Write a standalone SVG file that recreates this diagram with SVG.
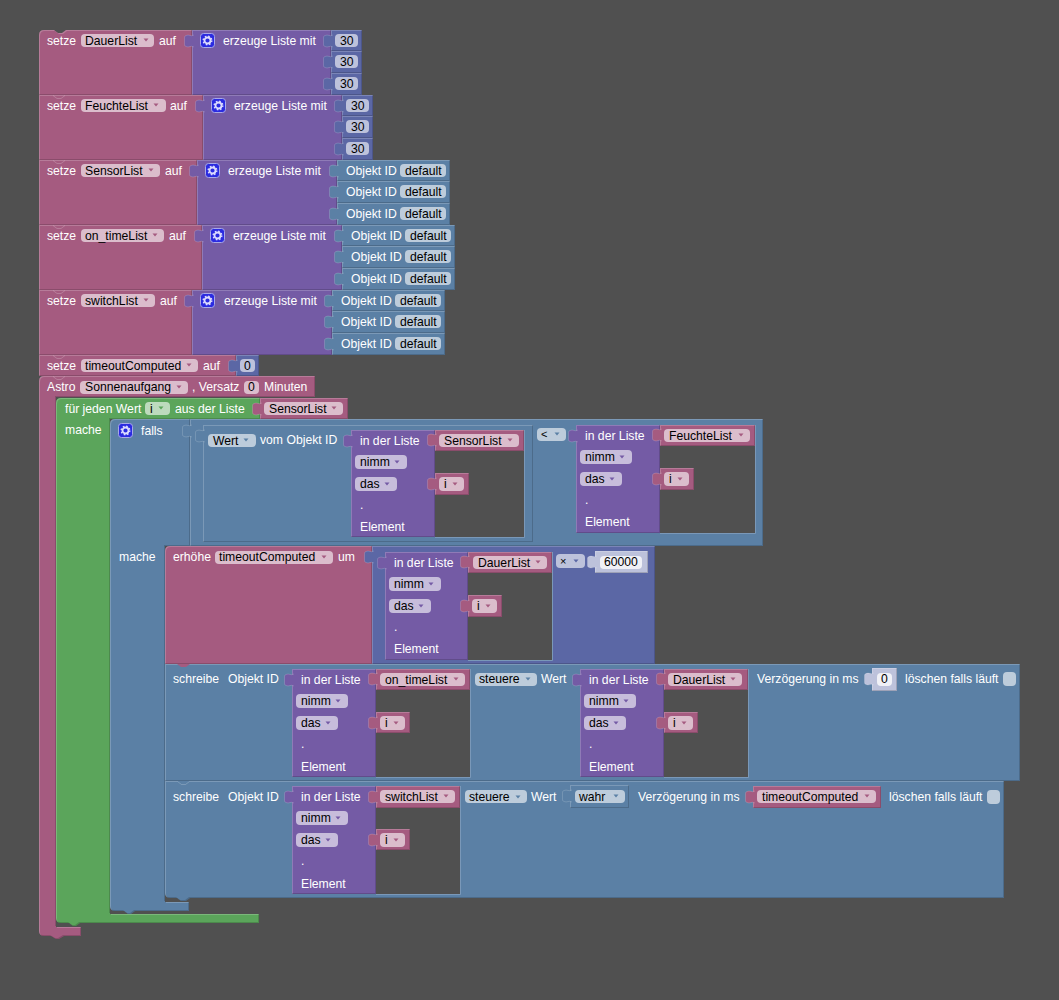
<svg xmlns="http://www.w3.org/2000/svg" width="1059" height="1000" viewBox="0 0 1059 1000">
<style>
text{font-family:"Liberation Sans",Arial,sans-serif;font-size:12.2px;fill:#fff;white-space:pre}
text.k{fill:#000}
.pk,.pu,.ma,.bl,.gr,.sh{filter:url(#bevel)}
.pk{fill:#a55b80}
.pu{fill:#745ba5}
.ma{fill:#5b67a5}
.bl{fill:#5b80a5}
.gr{fill:#5ba55b}
.sh{fill:#bdc2db}
.hole{fill:#505050;stroke:none}
.edge{fill:none;stroke:#7a98b8;stroke-width:1}
.fp{fill:#dbbdcc;rx:4px}.fu{fill:#c7bddb;rx:4px}.fm{fill:#bdc2db;rx:4px}.fb{fill:#bdccdb;rx:4px}.fg{fill:#bddbbd;rx:4px}.fw{fill:#f0f1f7;rx:4px}
.ap{fill:#a55b80}.au{fill:#745ba5}.am{fill:#5b67a5}.ab{fill:#5b80a5}.ag{fill:#5ba55b}.as{fill:#bdc2db}
.nt{fill:none;stroke-width:1;stroke:#fff;stroke-opacity:.2}
.sm{font-size:11px}
</style>
<defs>
<filter id="bevel" x="-2%" y="-2%" width="104%" height="104%" color-interpolation-filters="sRGB">
<feOffset in="SourceAlpha" dx="1" dy="1" result="o1"/>
<feComposite in="SourceAlpha" in2="o1" operator="out" result="tl"/>
<feFlood flood-color="#fff" flood-opacity=".2"/><feComposite in2="tl" operator="in" result="hi"/>
<feOffset in="SourceAlpha" dx="-1" dy="-1" result="o2"/>
<feComposite in="SourceAlpha" in2="o2" operator="out" result="br"/>
<feFlood flood-color="#000" flood-opacity=".16"/><feComposite in2="br" operator="in" result="lo"/>
<feMerge><feMergeNode in="SourceGraphic"/><feMergeNode in="hi"/><feMergeNode in="lo"/></feMerge>
</filter>
<path id="tab" d="M2 0C-1 2-3-1-6 .5C-7.500 1-7.500 2-7.500 3V9C-7.500 10-7.500 11-6 11.500C-3 13-1 10 2 12" stroke="#fff" stroke-opacity=".16"/>
<polygon id="ar" points="-2.500,-1.500 2.500,-1.500 0,1.500"/>
<polyline id="nt" points="0,0 4,3 8,3 12,0"/>
<g id="gear"><rect x="0.500" y="0.500" width="14" height="14" rx="3" fill="#2b2be0" stroke="#a8a8e8"/><circle cx="7.500" cy="7.500" r="3" fill="none" stroke="#dcdcff" stroke-width="1.800"/><circle cx="7.500" cy="7.500" r="4.300" fill="none" stroke="#dcdcff" stroke-width="1.400" stroke-dasharray="1.600 1.800"/></g>
</defs>
<rect width="1059" height="1000" fill="#505050"/>

<g id="astro">
<path class="pk" d="M39 381Q39 376 44 376H315V397H56V927H81V936H64L59 939H56L51 936H44Q39 936 39 931Z"/>
<use href="#nt" x="53" y="376.500" class="nt"/>
<text x="47" y="391">Astro</text><rect class="fp" x="80" y="381" width="108" height="13"/><text class="k" x="85" y="391">Sonnenaufgang</text><use href="#ar" x="179" y="387" class="ap"/>
<text x="192" y="391">, Versatz</text><rect class="fp" x="244" y="381" width="15" height="13"/><text class="k" x="248" y="391">0</text><text x="264" y="391">Minuten</text>
</g>

<g id="foreach">
<path class="gr" d="M56 403Q56 398 61 398H260V419H110V914H259V923H80L76 926H73L69 923H61Q56 923 56 918Z"/>
<text x="65" y="413">für jeden Wert</text><rect class="fg" x="145" y="402" width="25" height="13"/><text class="k" x="150" y="413">i</text><use href="#ar" x="161" y="408" class="ag"/>
<text x="175" y="413">aus der Liste</text><text x="65" y="434">mache</text>
<g id="foreach-list"><rect class="pk" x="260" y="398" width="88" height="21"/><use href="#tab" x="260" y="403" class="ap"/><rect class="fp" x="264" y="402" width="79" height="13"/><text class="k" x="269" y="413">SensorList</text><use href="#ar" x="334" y="408" class="ap"/></g>
</g>

<g id="falls">
<path class="bl" d="M110 424Q110 419 115 419H190V546H165V902H189V911H135L131 914H128L124 911H115Q110 911 110 906Z"/>
<use href="#gear" x="118" y="423"/><text x="141" y="435">falls</text><text x="119" y="561">mache</text>
</g>

<g id="compare">
<rect class="bl" x="190" y="419" width="573" height="127"/><use href="#tab" x="190" y="425" class="ab"/>
<rect class="fb" x="537" y="428" width="29" height="13"/><text class="k sm" x="541" y="438">&lt;</text><use href="#ar" x="557" y="434" class="ab"/>
</g>

<g id="get-state">
<rect class="bl" x="203" y="425" width="330" height="117"/><use href="#tab" x="203" y="430" class="ab"/>
<rect class="fb" x="208" y="434" width="48" height="13"/><text class="k" x="213" y="445">Wert</text><use href="#ar" x="246" y="440" class="ab"/>
<text x="260" y="444">vom Objekt ID</text>
</g>

<g id="list-1" transform="translate(351 430)">
<rect class="hole" x="84" y="0" width="89" height="107"/><path class="edge" d="M173.500 0V107.500H84"/>
<rect class="pu" x="0" y="0" width="84" height="107"/><use href="#tab" x="0" y="5" class="au"/>
<text x="9" y="15">in der Liste</text>
<rect class="fu" x="4" y="25" width="52" height="14"/><text class="k" x="9" y="36">nimm</text><use href="#ar" x="46" y="32" class="au"/>
<rect class="fu" x="4" y="47" width="42" height="14"/><text class="k" x="9" y="58">das</text><use href="#ar" x="36" y="54" class="au"/>
<text x="9" y="79">.</text><text x="9" y="101">Element</text>
<rect class="pk" x="84" y="0" width="89" height="21"/><use href="#tab" x="84" y="4" class="ap"/><rect class="fp" x="88" y="4" width="80" height="13"/><text class="k" x="93" y="15">SensorList</text><use href="#ar" x="159" y="10" class="ap"/>
<rect class="pk" x="84" y="43" width="34" height="22"/><use href="#tab" x="84" y="48" class="ap"/><rect class="fp" x="88" y="47" width="25" height="14"/><text class="k" x="93" y="58">i</text><use href="#ar" x="104" y="54" class="ap"/>
</g>

<g id="list-2" transform="translate(576 425)">
<rect class="hole" x="84" y="0" width="95" height="108"/><path class="edge" d="M179.500 0V108.500H84"/>
<rect class="pu" x="0" y="0" width="84" height="108"/><use href="#tab" x="0" y="5" class="au"/>
<text x="9" y="15">in der Liste</text>
<rect class="fu" x="4" y="25" width="52" height="14"/><text class="k" x="9" y="36">nimm</text><use href="#ar" x="46" y="32" class="au"/>
<rect class="fu" x="4" y="47" width="42" height="14"/><text class="k" x="9" y="58">das</text><use href="#ar" x="36" y="54" class="au"/>
<text x="9" y="79">.</text><text x="9" y="101">Element</text>
<rect class="pk" x="84" y="0" width="95" height="21"/><use href="#tab" x="84" y="4" class="ap"/><rect class="fp" x="88" y="4" width="86" height="13"/><text class="k" x="93" y="15">FeuchteList</text><use href="#ar" x="165" y="10" class="ap"/>
<rect class="pk" x="84" y="43" width="34" height="22"/><use href="#tab" x="84" y="48" class="ap"/><rect class="fp" x="88" y="47" width="25" height="14"/><text class="k" x="93" y="58">i</text><use href="#ar" x="104" y="54" class="ap"/>
</g>

<g id="increase">
<path class="pk" d="M165 551Q165 546 170 546H372V664H165Z"/>
<text x="173" y="561">erhöhe</text><rect class="fp" x="215" y="551" width="118" height="13"/><text class="k" x="219" y="561">timeoutComputed</text><use href="#ar" x="324" y="557" class="ap"/><text x="338" y="561">um</text>
</g>
<g id="multiply">
<rect class="ma" x="372" y="546" width="283" height="118"/><use href="#tab" x="372" y="551" class="am"/>
<rect class="fm" x="556" y="554" width="29" height="14"/><text class="k sm" x="560" y="565">×</text><use href="#ar" x="576" y="561" class="am"/>
<g id="n60000"><rect class="sh" x="595" y="551" width="53" height="22"/><use href="#tab" x="595" y="556" class="as"/><rect class="fw" x="600" y="556" width="42" height="13"/><text class="k" x="604" y="566">60000</text></g>
</g>

<g id="list-3" transform="translate(385 552)">
<rect class="hole" x="83" y="0" width="84" height="108"/><path class="edge" d="M167.500 0V108.500H83"/>
<rect class="pu" x="0" y="0" width="83" height="108"/><use href="#tab" x="0" y="5" class="au"/>
<text x="9" y="15">in der Liste</text>
<rect class="fu" x="4" y="25" width="52" height="14"/><text class="k" x="9" y="36">nimm</text><use href="#ar" x="46" y="32" class="au"/>
<rect class="fu" x="4" y="47" width="42" height="14"/><text class="k" x="9" y="58">das</text><use href="#ar" x="36" y="54" class="au"/>
<text x="9" y="79">.</text><text x="9" y="101">Element</text>
<rect class="pk" x="83" y="0" width="84" height="21"/><use href="#tab" x="83" y="4" class="ap"/><rect class="fp" x="88" y="4" width="74" height="13"/><text class="k" x="93" y="15">DauerList</text><use href="#ar" x="153" y="10" class="ap"/>
<rect class="pk" x="83" y="43" width="34" height="22"/><use href="#tab" x="83" y="48" class="ap"/><rect class="fp" x="87" y="47" width="25" height="14"/><text class="k" x="92" y="58">i</text><use href="#ar" x="103" y="54" class="ap"/>
</g>

<g id="write-1">
<rect class="bl" x="165" y="664" width="855" height="117"/><path d="M177 664L181 667H186L190 664Z" fill="#a55b80"/>
<text x="173" y="683">schreibe</text><text x="228" y="683">Objekt ID</text>
<rect class="fb" x="475" y="673" width="62" height="13"/><text class="k" x="479" y="683">steuere</text><use href="#ar" x="528" y="679" class="ab"/><text x="541" y="683">Wert</text>
<text x="757" y="683">Verzögerung in ms</text>
<g id="n0"><rect class="sh" x="872" y="668" width="25" height="23"/><use href="#tab" x="872" y="673" class="as"/><rect class="fw" x="877" y="673" width="15" height="13"/><text class="k" x="881" y="683">0</text></g>
<text x="905" y="683">löschen falls läuft</text><rect class="fb" x="1003" y="672" width="13" height="14"/>
</g>
<g id="list-4" transform="translate(292 669)">
<rect class="hole" x="84" y="0" width="94" height="108"/><path class="edge" d="M178.500 0V108.500H84"/>
<rect class="pu" x="0" y="0" width="84" height="108"/><use href="#tab" x="0" y="5" class="au"/>
<text x="9" y="15">in der Liste</text>
<rect class="fu" x="4" y="25" width="52" height="14"/><text class="k" x="9" y="36">nimm</text><use href="#ar" x="46" y="32" class="au"/>
<rect class="fu" x="4" y="47" width="42" height="14"/><text class="k" x="9" y="58">das</text><use href="#ar" x="36" y="54" class="au"/>
<text x="9" y="79">.</text><text x="9" y="102">Element</text>
<rect class="pk" x="84" y="0" width="94" height="21"/><use href="#tab" x="84" y="4" class="ap"/><rect class="fp" x="88" y="4" width="85" height="13"/><text class="k" x="93" y="15">on_timeList</text><use href="#ar" x="164" y="10" class="ap"/>
<rect class="pk" x="84" y="43" width="34" height="21"/><use href="#tab" x="84" y="48" class="ap"/><rect class="fp" x="88" y="47" width="25" height="14"/><text class="k" x="93" y="58">i</text><use href="#ar" x="104" y="54" class="ap"/>
</g>
<g id="list-5" transform="translate(580 669)">
<rect class="hole" x="84" y="0" width="84" height="108"/><path class="edge" d="M168.500 0V108.500H84"/>
<rect class="pu" x="0" y="0" width="84" height="108"/><use href="#tab" x="0" y="5" class="au"/>
<text x="9" y="15">in der Liste</text>
<rect class="fu" x="4" y="25" width="52" height="14"/><text class="k" x="9" y="36">nimm</text><use href="#ar" x="46" y="32" class="au"/>
<rect class="fu" x="4" y="47" width="42" height="14"/><text class="k" x="9" y="58">das</text><use href="#ar" x="36" y="54" class="au"/>
<text x="9" y="79">.</text><text x="9" y="102">Element</text>
<rect class="pk" x="84" y="0" width="84" height="21"/><use href="#tab" x="84" y="4" class="ap"/><rect class="fp" x="88" y="4" width="74" height="13"/><text class="k" x="93" y="15">DauerList</text><use href="#ar" x="153" y="10" class="ap"/>
<rect class="pk" x="84" y="43" width="34" height="21"/><use href="#tab" x="84" y="48" class="ap"/><rect class="fp" x="88" y="47" width="25" height="14"/><text class="k" x="93" y="58">i</text><use href="#ar" x="104" y="54" class="ap"/>
</g>

<g id="write-2">
<path class="bl" d="M165 781H1004V898H190L186 901H181L177 898H170Q165 898 165 893Z"/><path d="M177 781L181 784H186L190 781Z" fill="#5b80a5"/><use href="#nt" x="177.500" y="781.500" class="nt"/>
<text x="173" y="801">schreibe</text><text x="228" y="801">Objekt ID</text>
<rect class="fb" x="465" y="790" width="62" height="13"/><text class="k" x="469" y="801">steuere</text><use href="#ar" x="518" y="797" class="ab"/><text x="531" y="801">Wert</text>
<g id="wahr"><rect class="bl" x="570" y="785" width="59" height="23"/><use href="#tab" x="570" y="790" class="ab"/><rect class="fb" x="575" y="790" width="50" height="13"/><text class="k" x="579" y="801">wahr</text><use href="#ar" x="616" y="796" class="ab"/></g>
<text x="638" y="801">Verzögerung in ms</text>
<g id="timeout-ref"><rect class="pk" x="753" y="786" width="128" height="22"/><use href="#tab" x="753" y="791" class="ap"/><rect class="fp" x="757" y="790" width="119" height="13"/><text class="k" x="762" y="801">timeoutComputed</text><use href="#ar" x="867" y="796" class="ap"/></g>
<text x="889" y="801">löschen falls läuft</text><rect class="fb" x="987" y="790" width="13" height="14"/>
</g>
<g id="list-6" transform="translate(292 786)">
<rect class="hole" x="84" y="0" width="84" height="108"/><path class="edge" d="M168.500 0V108.500H84"/>
<rect class="pu" x="0" y="0" width="84" height="108"/><use href="#tab" x="0" y="5" class="au"/>
<text x="9" y="15">in der Liste</text>
<rect class="fu" x="4" y="25" width="52" height="14"/><text class="k" x="9" y="36">nimm</text><use href="#ar" x="46" y="32" class="au"/>
<rect class="fu" x="4" y="47" width="42" height="14"/><text class="k" x="9" y="58">das</text><use href="#ar" x="36" y="54" class="au"/>
<text x="9" y="79">.</text><text x="9" y="102">Element</text>
<rect class="pk" x="84" y="0" width="84" height="22"/><use href="#tab" x="84" y="5" class="ap"/><rect class="fp" x="88" y="4" width="75" height="13"/><text class="k" x="93" y="15">switchList</text><use href="#ar" x="154" y="10" class="ap"/>
<rect class="pk" x="84" y="43" width="34" height="21"/><use href="#tab" x="84" y="48" class="ap"/><rect class="fp" x="88" y="47" width="25" height="14"/><text class="k" x="93" y="58">i</text><use href="#ar" x="104" y="54" class="ap"/>
</g>

<g id="set-timeout">
<rect class="pk" x="39" y="355" width="197" height="21"/><use href="#nt" x="53" y="355.500" class="nt"/>
<text x="47" y="370">setze</text><rect class="fp" x="81" y="359" width="117" height="13"/><text class="k" x="85" y="370">timeoutComputed</text><use href="#ar" x="189" y="365" class="ap"/><text x="203" y="370">auf</text>
<rect class="ma" x="236" y="355" width="23" height="21"/><use href="#tab" x="236" y="360" class="am"/><rect class="fm" x="240" y="359" width="15" height="13"/><text class="k" x="244" y="370">0</text>
</g>

<g id="set-dauer">
<path class="pk" d="M39 35Q39 30 44 30H54L58 33H62L66 30H192V95H39Z"/>
<text x="47" y="45">setze</text><rect class="fp" x="81" y="34" width="73" height="13"/><text class="k" x="85" y="45">DauerList</text><use href="#ar" x="146" y="40" class="ap"/><text x="159" y="45">auf</text>
<rect class="pu" x="192" y="30" width="139" height="65"/><use href="#tab" x="192" y="35" class="au"/><use href="#gear" x="200" y="33"/><text x="223" y="45">erzeuge Liste mit</text>
<rect class="ma" x="331" y="30" width="31" height="21"/><use href="#tab" x="331" y="35" class="am"/><rect class="fm" x="335" y="34" width="23" height="13"/><text class="k" x="340" y="45">30</text>
<rect class="ma" x="331" y="51" width="31" height="22"/><use href="#tab" x="331" y="56" class="am"/><rect class="fm" x="335" y="55" width="23" height="13"/><text class="k" x="340" y="66">30</text>
<rect class="ma" x="331" y="73" width="31" height="22"/><use href="#tab" x="331" y="78" class="am"/><rect class="fm" x="335" y="77" width="23" height="13"/><text class="k" x="340" y="88">30</text>
</g>

<g id="set-feuchte">
<rect class="pk" x="39" y="95" width="164" height="65"/><use href="#nt" x="53" y="95.500" class="nt"/>
<text x="47" y="110">setze</text><rect class="fp" x="81" y="99" width="85" height="13"/><text class="k" x="85" y="110">FeuchteList</text><use href="#ar" x="156" y="105" class="ap"/><text x="170" y="110">auf</text>
<rect class="pu" x="203" y="95" width="139" height="65"/><use href="#tab" x="203" y="100" class="au"/><use href="#gear" x="211" y="98"/><text x="234" y="110">erzeuge Liste mit</text>
<rect class="ma" x="342" y="95" width="31" height="21"/><use href="#tab" x="342" y="100" class="am"/><rect class="fm" x="346" y="99" width="23" height="13"/><text class="k" x="351" y="110">30</text>
<rect class="ma" x="342" y="116" width="31" height="22"/><use href="#tab" x="342" y="121" class="am"/><rect class="fm" x="346" y="120" width="23" height="13"/><text class="k" x="351" y="131">30</text>
<rect class="ma" x="342" y="138" width="31" height="22"/><use href="#tab" x="342" y="143" class="am"/><rect class="fm" x="346" y="142" width="23" height="13"/><text class="k" x="351" y="153">30</text>
</g>

<g id="set-sensor">
<rect class="pk" x="39" y="160" width="158" height="65"/><use href="#nt" x="53" y="160.500" class="nt"/>
<text x="47" y="175">setze</text><rect class="fp" x="81" y="164" width="79" height="13"/><text class="k" x="85" y="175">SensorList</text><use href="#ar" x="151" y="170" class="ap"/><text x="165" y="175">auf</text>
<rect class="pu" x="197" y="160" width="140" height="65"/><use href="#tab" x="197" y="165" class="au"/><use href="#gear" x="205" y="163"/><text x="228" y="175">erzeuge Liste mit</text>
<rect class="bl" x="337" y="160" width="113" height="21"/><use href="#tab" x="337" y="165" class="ab"/><text x="346" y="175">Objekt ID</text><rect class="fb" x="400" y="164" width="46" height="13"/><text class="k" x="405" y="175">default</text>
<rect class="bl" x="337" y="181" width="113" height="22"/><use href="#tab" x="337" y="186" class="ab"/><text x="346" y="196">Objekt ID</text><rect class="fb" x="400" y="185" width="46" height="13"/><text class="k" x="405" y="196">default</text>
<rect class="bl" x="337" y="203" width="113" height="22"/><use href="#tab" x="337" y="208" class="ab"/><text x="346" y="218">Objekt ID</text><rect class="fb" x="400" y="207" width="46" height="13"/><text class="k" x="405" y="218">default</text>
</g>

<g id="set-ontime">
<rect class="pk" x="39" y="225" width="163" height="65"/><use href="#nt" x="53" y="225.500" class="nt"/>
<text x="47" y="240">setze</text><rect class="fp" x="81" y="229" width="83" height="13"/><text class="k" x="85" y="240">on_timeList</text><use href="#ar" x="155" y="235" class="ap"/><text x="169" y="240">auf</text>
<rect class="pu" x="202" y="225" width="140" height="65"/><use href="#tab" x="202" y="230" class="au"/><use href="#gear" x="210" y="228"/><text x="233" y="240">erzeuge Liste mit</text>
<rect class="bl" x="342" y="225" width="113" height="21"/><use href="#tab" x="342" y="230" class="ab"/><text x="351" y="240">Objekt ID</text><rect class="fb" x="405" y="229" width="46" height="13"/><text class="k" x="410" y="240">default</text>
<rect class="bl" x="342" y="246" width="113" height="22"/><use href="#tab" x="342" y="251" class="ab"/><text x="351" y="261">Objekt ID</text><rect class="fb" x="405" y="250" width="46" height="13"/><text class="k" x="410" y="261">default</text>
<rect class="bl" x="342" y="268" width="113" height="22"/><use href="#tab" x="342" y="273" class="ab"/><text x="351" y="283">Objekt ID</text><rect class="fb" x="405" y="272" width="46" height="13"/><text class="k" x="410" y="283">default</text>
</g>

<g id="set-switch">
<rect class="pk" x="39" y="290" width="153" height="65"/><use href="#nt" x="53" y="290.500" class="nt"/>
<text x="47" y="305">setze</text><rect class="fp" x="81" y="294" width="74" height="13"/><text class="k" x="85" y="305">switchList</text><use href="#ar" x="146" y="300" class="ap"/><text x="160" y="305">auf</text>
<rect class="pu" x="192" y="290" width="140" height="65"/><use href="#tab" x="192" y="295" class="au"/><use href="#gear" x="200" y="293"/><text x="224" y="305">erzeuge Liste mit</text>
<rect class="bl" x="332" y="290" width="113" height="21"/><use href="#tab" x="332" y="295" class="ab"/><text x="341" y="305">Objekt ID</text><rect class="fb" x="395" y="294" width="46" height="13"/><text class="k" x="400" y="305">default</text>
<rect class="bl" x="332" y="311" width="113" height="22"/><use href="#tab" x="332" y="316" class="ab"/><text x="341" y="326">Objekt ID</text><rect class="fb" x="395" y="315" width="46" height="13"/><text class="k" x="400" y="326">default</text>
<rect class="bl" x="332" y="333" width="113" height="22"/><use href="#tab" x="332" y="338" class="ab"/><text x="341" y="348">Objekt ID</text><rect class="fb" x="395" y="337" width="46" height="13"/><text class="k" x="400" y="348">default</text>
</g>
</svg>
